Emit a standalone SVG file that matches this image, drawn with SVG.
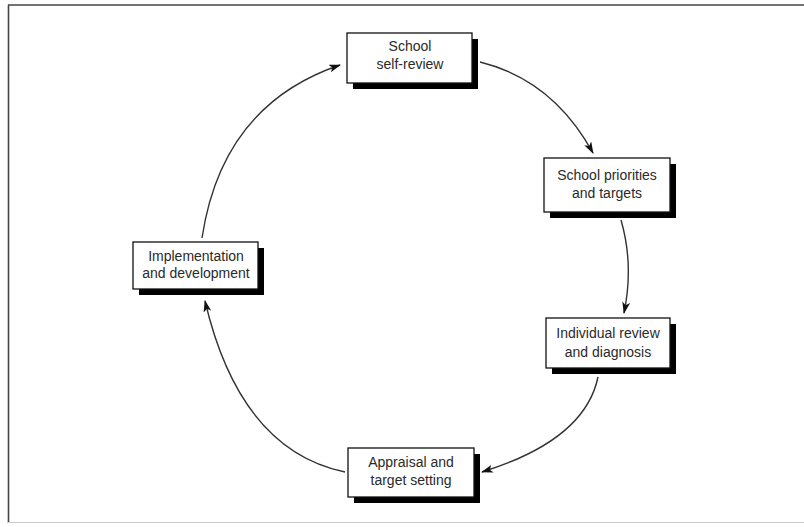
<svg xmlns="http://www.w3.org/2000/svg" width="804" height="527" viewBox="0 0 804 527">
<defs>
<style>
.box{fill:#fff;stroke:#111;stroke-width:1.3}
.shadow{fill:#000}
.lbl{font-family:"Liberation Sans",Arial,sans-serif;font-size:14px;fill:#2a2a2a;text-anchor:middle}
.conn{fill:none;stroke:#333;stroke-width:1.4;marker-end:url(#ah)}
</style>
<marker id="ah" viewBox="0 0 12 8" refX="11" refY="4" markerWidth="12" markerHeight="8" markerUnits="userSpaceOnUse" orient="auto">
<path d="M0,0 L12,4 L0,8 L3,4 Z" fill="#111"/>
</marker>
</defs>
<rect width="804" height="527" fill="#fff"/>
<g id="frame">
<line x1="8.5" y1="5" x2="8.5" y2="523" stroke="#444" stroke-width="1.6"/>
<line x1="8" y1="5" x2="804" y2="5" stroke="#444" stroke-width="1.6"/>
<line x1="8" y1="522.5" x2="804" y2="522.5" stroke="#ccc" stroke-width="1.2"/>
</g>
<g id="connectors">
<path class="conn" d="M480,62 Q553,80 593,153"/>
<path class="conn" d="M621,220 Q634,265 624,313"/>
<path class="conn" d="M598,377 Q585,440 482,472"/>
<path class="conn" d="M345,472 Q240,450 205,301"/>
<path class="conn" d="M202,238 Q222,105 340,65"/>
</g>
<g id="school-self-review">
<rect class="shadow" x="353" y="39" width="125" height="50"/>
<rect class="box" x="347" y="33" width="125" height="50"/>
<text class="lbl" x="410" y="51">School</text>
<text class="lbl" x="410" y="69">self-review</text>
</g>
<g id="school-priorities">
<rect class="shadow" x="550" y="164" width="126" height="54"/>
<rect class="box" x="544" y="158" width="126" height="54"/>
<text class="lbl" x="607" y="180">School priorities</text>
<text class="lbl" x="607" y="198">and targets</text>
</g>
<g id="individual-review">
<rect class="shadow" x="552" y="324" width="124" height="50"/>
<rect class="box" x="546" y="318" width="124" height="50"/>
<text class="lbl" x="608" y="338">Individual review</text>
<text class="lbl" x="608" y="357">and diagnosis</text>
</g>
<g id="appraisal">
<rect class="shadow" x="354" y="454" width="126" height="49"/>
<rect class="box" x="348" y="448" width="126" height="49"/>
<text class="lbl" x="411" y="467">Appraisal and</text>
<text class="lbl" x="411" y="485">target setting</text>
</g>
<g id="implementation">
<rect class="shadow" x="139" y="248" width="125" height="47"/>
<rect class="box" x="133" y="242" width="125" height="47"/>
<text class="lbl" x="196" y="261">Implementation</text>
<text class="lbl" x="196" y="278">and development</text>
</g>
</svg>
